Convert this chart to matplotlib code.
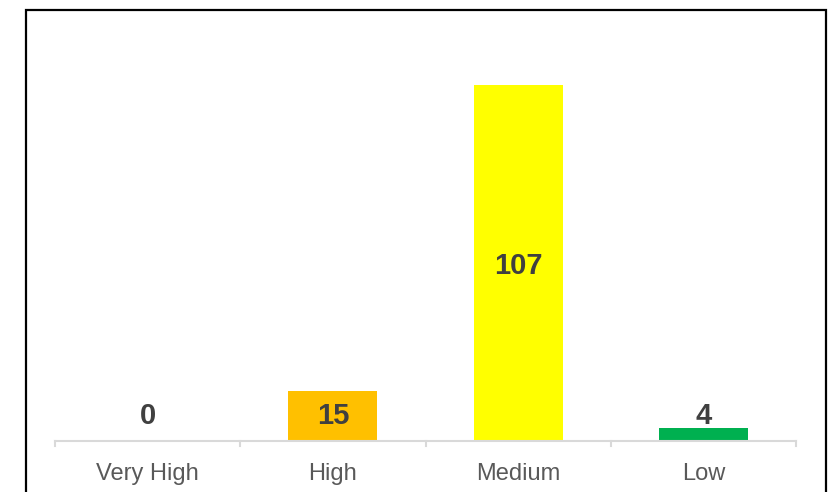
import matplotlib
matplotlib.use('Agg')
import matplotlib.pyplot as plt
from matplotlib.patches import Rectangle

# risk level counts
categories = ['Very High', 'High', 'Medium', 'Low']
counts = [0, 15, 107, 4]
colors = ['#C00000', '#FFC000', '#FFFF00', '#00B050']

plt.rcParams['font.family'] = ['Liberation Sans', 'DejaVu Sans']

fig = plt.figure(figsize=(8.33, 4.92), dpi=100)
# plot area: x 55..796 px, baseline at y=441 px
ax = fig.add_axes([55 / 833, (492 - 441) / 492, (796 - 55) / 833, 399 / 492])

x = list(range(len(categories)))
ax.bar(x, counts, width=0.48, color=colors)

for xi, v in zip(x, counts):
    ypos = max(v / 2 - 1.0, 7.6)
    ax.text(xi, ypos, str(v), ha='center', va='center', fontsize=21,
            fontweight='bold', color='#404040')

ax.set_xlim(-0.5, 3.5)
ax.set_ylim(0, 120)
ax.set_yticks([])
ax.set_xticks(x)
ax.set_xticklabels(categories, fontsize=17, color='#595959')
ax.tick_params(axis='x', length=0, pad=16)
# category separators on the axis line
for b in [-0.5, 0.5, 1.5, 2.5, 3.5]:
    ax.plot([b, b], [0, -1.6], color='#D9D9D9', linewidth=1.5, clip_on=False)

for side in ['top', 'right', 'left']:
    ax.spines[side].set_visible(False)
ax.spines['bottom'].set_color('#D9D9D9')
ax.spines['bottom'].set_linewidth(1.5)

# outer chart frame
fig.patches.append(Rectangle((25.5 / 833, -0.05), 800 / 833, 1.05 - 10.5 / 492,
                             transform=fig.transFigure, fill=False,
                             edgecolor='black', linewidth=1.6))

fig.savefig('out.png', dpi=100)
